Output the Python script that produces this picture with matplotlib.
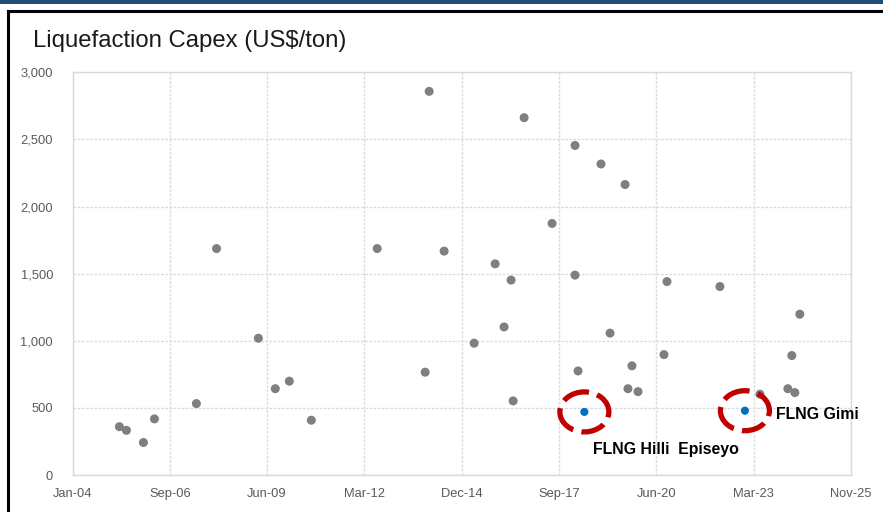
import matplotlib
matplotlib.use("Agg")
import matplotlib.pyplot as plt
import matplotlib.dates as mdates
from matplotlib.patches import Ellipse
import pandas as pd

# Project start dates and liquefaction capex (US$/ton)
project_dates = [
    "2005-04-27", "2005-07-08", "2005-12-30", "2006-04-22", "2007-06-27",
    "2008-01-20", "2009-03-25", "2009-09-15", "2010-02-06", "2010-09-20",
    "2012-07-28", "2013-12-03", "2014-01-13", "2014-06-16", "2015-04-20",
    "2015-11-22", "2016-02-22", "2016-05-04", "2016-05-25", "2016-09-15",
    "2017-06-29", "2018-02-20", "2018-02-20", "2018-03-23", "2018-11-14",
    "2019-02-15", "2019-07-19", "2019-08-18", "2019-09-28", "2019-11-29",
    "2020-08-22", "2020-09-22", "2022-03-20", "2023-05-05", "2024-02-16",
    "2024-03-28", "2024-04-28", "2024-06-18",
]
capex = [
    360, 333, 242, 418, 532,
    1687, 1019, 643, 699, 408,
    1687, 766, 2858, 1668, 982,
    1573, 1103, 1452, 552, 2662,
    1874, 2455, 1489, 775, 2317,
    1057, 2164, 643, 813, 621,
    897, 1441, 1404, 602, 643,
    890, 614, 1198,
]

# Floating LNG projects highlighted separately
flng_names = ["FLNG Hilli  Episeyo", "FLNG Gimi"]
flng_dates = ["2018-05-27", "2022-12-02"]
flng_capex = [470, 479]

axis_start = "2004-01-01"
axis_end = "2025-11-26"
tick_step_days = 1000
y_ticks = [0, 500, 1000, 1500, 2000, 2500, 3000]

W, H = 883, 512
fig = plt.figure(figsize=(W / 100, H / 100), dpi=100)
fig.patch.set_facecolor("white")

# Top banner and frame lines
fig.add_artist(plt.Rectangle((0, 1 - 4 / H), 1, 4 / H, transform=fig.transFigure,
                             facecolor="#1F4E79", edgecolor="none"))
fig.add_artist(plt.Line2D([8 / W, 1], [1 - 11 / H, 1 - 11 / H], transform=fig.transFigure,
                          color="black", lw=2.2))
fig.add_artist(plt.Line2D([8 / W, 8 / W], [0, 1 - 11 / H], transform=fig.transFigure,
                          color="black", lw=2.2))

fig.text(33 / W, 1 - 41 / H, "Liquefaction Capex (US$/ton)", fontsize=17.2,
         family="Liberation Sans", color="#1a1a1a", va="center", ha="left")

left, right = 72.5 / W, 851 / W
bottom, top = (H - 475) / H, (H - 72.3) / H
ax = fig.add_axes([left, bottom, right - left, top - bottom])

x = pd.to_datetime(project_dates)
xf = pd.to_datetime(flng_dates)

ax.scatter(x, capex, s=42, color="#7F7F7F", edgecolor="none", zorder=3)
ax.scatter(xf, flng_capex, s=34, color="#0070C0", edgecolor="none", zorder=4)

start = pd.Timestamp(axis_start)
end = pd.Timestamp(axis_end)
ax.set_xlim(start, end)
ax.set_ylim(0, 3000)

ticks = [start + pd.Timedelta(days=tick_step_days * k) for k in range(9)]
ax.set_xticks(ticks)
ax.xaxis.set_major_formatter(mdates.DateFormatter("%b-%y"))
ax.set_yticks(y_ticks)
ax.set_yticklabels([f"{v:,}" for v in y_ticks])

tick_font = ["Liberation Sans Narrow", "Liberation Sans", "DejaVu Sans"]
for lab in ax.get_xticklabels() + ax.get_yticklabels():
    lab.set_family(tick_font)
    lab.set_fontsize(9.3)
    lab.set_color("#595959")
for lab in ax.get_xticklabels():
    lab.set_verticalalignment("baseline")
ax.tick_params(length=0)
ax.tick_params(axis="x", pad=16)
ax.tick_params(axis="y", pad=14)

ax.grid(True, color="#DCDCDC", lw=1.0, ls=(0, (2, 1)))
ax.set_axisbelow(True)
for sp in ax.spines.values():
    sp.set_color("#D9D9D9")
    sp.set_linewidth(1.0)

# Dashed red rings around the floating LNG projects
xnum = mdates.date2num(xf)
span_days = (end - start).days
px_per_day = (right - left) * W / span_days
px_per_unit = (top - bottom) * H / 3000
for xv, yv in zip(xnum, flng_capex):
    ring = Ellipse((xv, yv), width=49 / px_per_day, height=40 / px_per_unit,
                   fill=False, edgecolor="#C00000", lw=3.8,
                   ls=(1.2, (5.2, 1.6)), zorder=5)
    ax.add_patch(ring)

label_font = "Liberation Sans"
ax.annotate(flng_names[0], (xnum[0], flng_capex[0]), xytext=(9, -38),
            textcoords="offset pixels", fontsize=11.4, fontweight="bold",
            family=label_font, ha="left", va="center", color="black")
ax.annotate(flng_names[1], (xnum[1], flng_capex[1]), xytext=(31, -4),
            textcoords="offset pixels", fontsize=11.4, fontweight="bold",
            family=label_font, ha="left", va="center", color="black")

fig.savefig("out.png", dpi=100, facecolor="white")
